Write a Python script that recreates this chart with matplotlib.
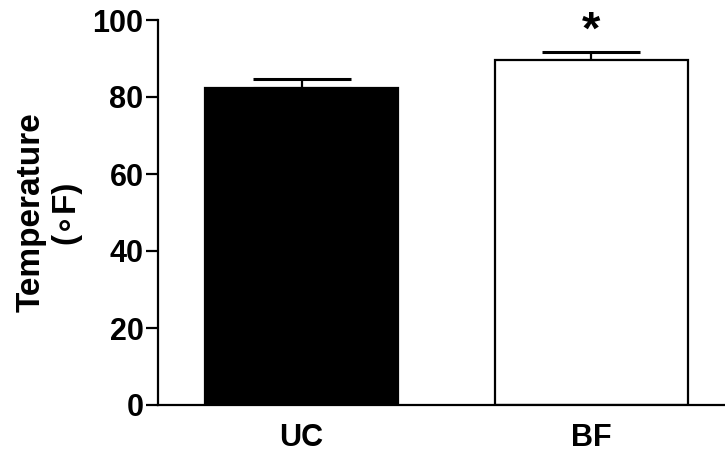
import matplotlib
matplotlib.use("Agg")
import matplotlib.pyplot as plt

categories = ["UC", "BF"]
means = [82.3, 89.6]
sem = [2.5, 2.0]
colors = ["black", "white"]
yticks = [0, 20, 40, 60, 80, 100]

plt.rcParams['font.family'] = ['Liberation Sans', 'DejaVu Sans']
plt.rcParams['font.weight'] = 'bold'

fig = plt.figure(figsize=(7.25, 4.55), dpi=100)
ax = fig.add_axes([158/725, 1 - 405/455, 1 - 158/725, (405-20)/455])

x = [0, 1.5]
ax.bar(x, means, width=1.0, color=colors, edgecolor="black", linewidth=1.6, zorder=2)
ax.errorbar(x, means, yerr=[[0, 0], sem], fmt='none', ecolor='black',
            elinewidth=1.6, capsize=35, capthick=2.2, zorder=1)

ax.set_xlim(-0.744, 2.194)
ax.set_ylim(0, 100)
ax.set_yticks(yticks)
ax.set_xticks(x)
ax.set_xticklabels(categories, fontsize=22, fontweight='bold')
ax.tick_params(axis='x', length=0, pad=13)
ax.tick_params(axis='y', length=8.5, width=1.6, pad=2, labelsize=22)
for lab in ax.get_yticklabels():
    lab.set_fontweight('bold')

for s in ['top', 'right']:
    ax.spines[s].set_visible(False)
for s in ['left', 'bottom']:
    ax.spines[s].set_linewidth(1.6)

ax.set_ylabel("Temperature\n(\u2218F)", fontsize=24, fontweight='bold', linespacing=1.15, labelpad=8)

ax.text(1.5, 97.0, "*", ha='center', va='center', fontsize=34, fontweight='bold', clip_on=False)

fig.savefig("out.png", dpi=100)
